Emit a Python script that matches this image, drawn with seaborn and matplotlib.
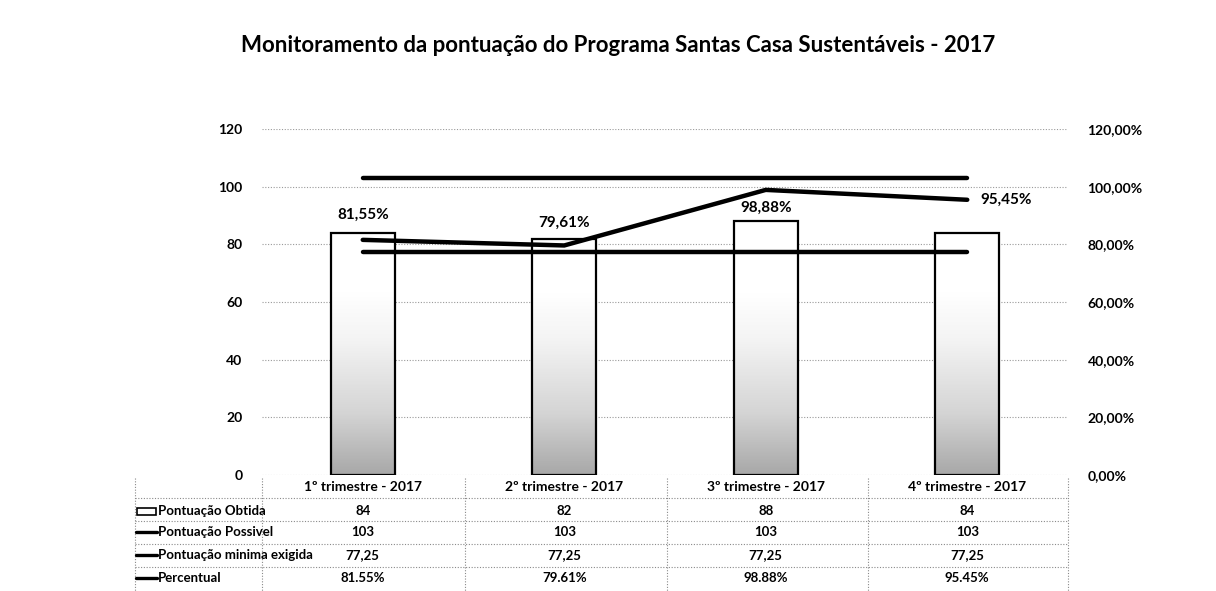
import numpy as np
import pandas as pd
import seaborn as sns
import matplotlib.pyplot as plt
import matplotlib.transforms as mtransforms
from matplotlib.colors import LinearSegmentedColormap
from matplotlib.ticker import FuncFormatter

sns.set_theme(style="white")
plt.rcParams['font.family'] = ['Lato', 'DejaVu Sans']
plt.rcParams['font.weight'] = 'bold'
plt.rcParams['text.color'] = 'black'
plt.rcParams['xtick.color'] = 'black'
plt.rcParams['ytick.color'] = 'black'

# data
trimestres = ["1º trimestre - 2017", "2º trimestre - 2017",
              "3º trimestre - 2017", "4º trimestre - 2017"]
obtida = [84, 82, 88, 84]
possivel = [103, 103, 103, 103]
minima = [77.25, 77.25, 77.25, 77.25]
percentual = [0.8155, 0.7961, 0.9888, 0.9545]

row_names = ["Pontuação Obtida", "Pontuação Possivel",
             "Pontuação minima exigida", "Percentual"]
row_values = [[str(v) for v in obtida],
              [str(v) for v in possivel],
              [f"{v:.2f}".replace(".", ",") for v in minima],
              [f"{v*100:.2f}%" for v in percentual]]

df = pd.DataFrame({"trimestre": trimestres, "obtida": obtida})

W, H = 1216, 591
fig = plt.figure(figsize=(W / 100, H / 100), dpi=100)
ax = fig.add_axes([262 / W, 1 - 475 / H, (1068 - 262) / W, (475 - 129) / H])

sns.barplot(data=df, x="trimestre", y="obtida", ax=ax, color="white",
            edgecolor="black", linewidth=1.6, width=0.32, zorder=2)

# grey fade inside the bars (the scan shows a stipple, darker at the bottom)
grad = np.linspace(0, 1, 200).reshape(-1, 1)
cmap = LinearSegmentedColormap.from_list(
    "fade", [(0, "#a8a8a8"), (0.25, "#d4d4d4"), (0.55, "#f3f3f3"), (0.75, "white"), (1, "white")])
for p in ax.patches:
    x0, y0 = p.get_x(), p.get_y()
    w, h = p.get_width(), p.get_height()
    im = ax.imshow(grad, cmap=cmap, origin="lower", aspect="auto",
                   extent=(x0, x0 + w, y0, y0 + h), zorder=2.5, vmin=0, vmax=84 / h)
    im.set_clip_path(p)
    p.set_zorder(3)
    p.set_facecolor("none")

sns.lineplot(x=trimestres, y=possivel, ax=ax, color="black", lw=3.2, zorder=4)
sns.lineplot(x=trimestres, y=minima, ax=ax, color="black", lw=3.2, zorder=4)

ax.set_ylim(0, 120)
ax.set_xlim(-0.5, 3.5)
ax.set_yticks(range(0, 121, 20))
ax.yaxis.grid(True, linestyle=(0, (1, 1.5)), color="#9a9a9a", lw=0.8)
ax.set_axisbelow(True)
ax.set_xlabel("")
ax.set_ylabel("")
for s in ax.spines.values():
    s.set_visible(False)
ax.tick_params(axis="y", length=0, pad=14, labelsize=10)
ax.tick_params(axis="x", length=0, pad=4, labelsize=10)

ax2 = ax.twinx()
sns.lineplot(x=trimestres, y=percentual, ax=ax2, color="black", lw=3.2, zorder=5)
ax2.set_ylim(0, 1.2)
ax2.set_yticks(np.arange(0, 1.21, 0.2))
ax2.yaxis.set_major_formatter(FuncFormatter(lambda v, _: f"{v*100:.2f}%".replace(".", ",")))
ax2.tick_params(axis="y", length=0, pad=14, labelsize=10)
ax2.set_ylabel("")
for s in ax2.spines.values():
    s.set_visible(False)

offsets = [(0, 18), (0, 16), (0, -13), (28, 0)]
for i, (v, off) in enumerate(zip(percentual, offsets)):
    ax2.annotate(f"{v*100:.2f}%".replace(".", ","), (i, v), xytext=off,
                 textcoords="offset points", ha="center", va="center",
                 fontsize=11, fontweight="bold")

fig.text(0.508, 1 - 46 / H, "Monitoramento da pontuação do Programa Santas Casa Sustentáveis - 2017",
         ha="center", va="center", fontsize=16, fontweight="bold")

# data table below the chart
tr = mtransforms.blended_transform_factory(ax.transData, fig.transFigure)
row_y = [511, 532, 555, 578]
dot = dict(color="#8a8a8a", lw=0.8, linestyle=(0, (1, 1.5)))
for yb in [498, 521, 544, 567]:
    fig.add_artist(plt.Line2D([135 / W, 1068 / W], [1 - yb / H] * 2, **dot))
for xb in [135, 262, 465, 667, 868, 1068]:
    fig.add_artist(plt.Line2D([xb / W] * 2, [1 - 478 / H, 0], **dot))
for r, (name, vals, yp) in enumerate(zip(row_names, row_values, row_y)):
    yf = 1 - yp / H
    fig.text(158 / W, yf, name, ha="left", va="center", fontsize=9.5, fontweight="bold")
    if r == 0:
        fig.add_artist(plt.Rectangle((137 / W, yf - 3.5 / H), 19 / W, 7 / H,
                                     facecolor="white", edgecolor="black", lw=1.2))
    else:
        fig.add_artist(plt.Line2D([136 / W, 157 / W], [yf, yf], color="black", lw=2.4))
    for i, v in enumerate(vals):
        ax.text(i, yf, v, transform=tr, ha="center", va="center",
                fontsize=9.5, fontweight="bold")

fig.savefig("out.png", dpi=100, facecolor="white")
